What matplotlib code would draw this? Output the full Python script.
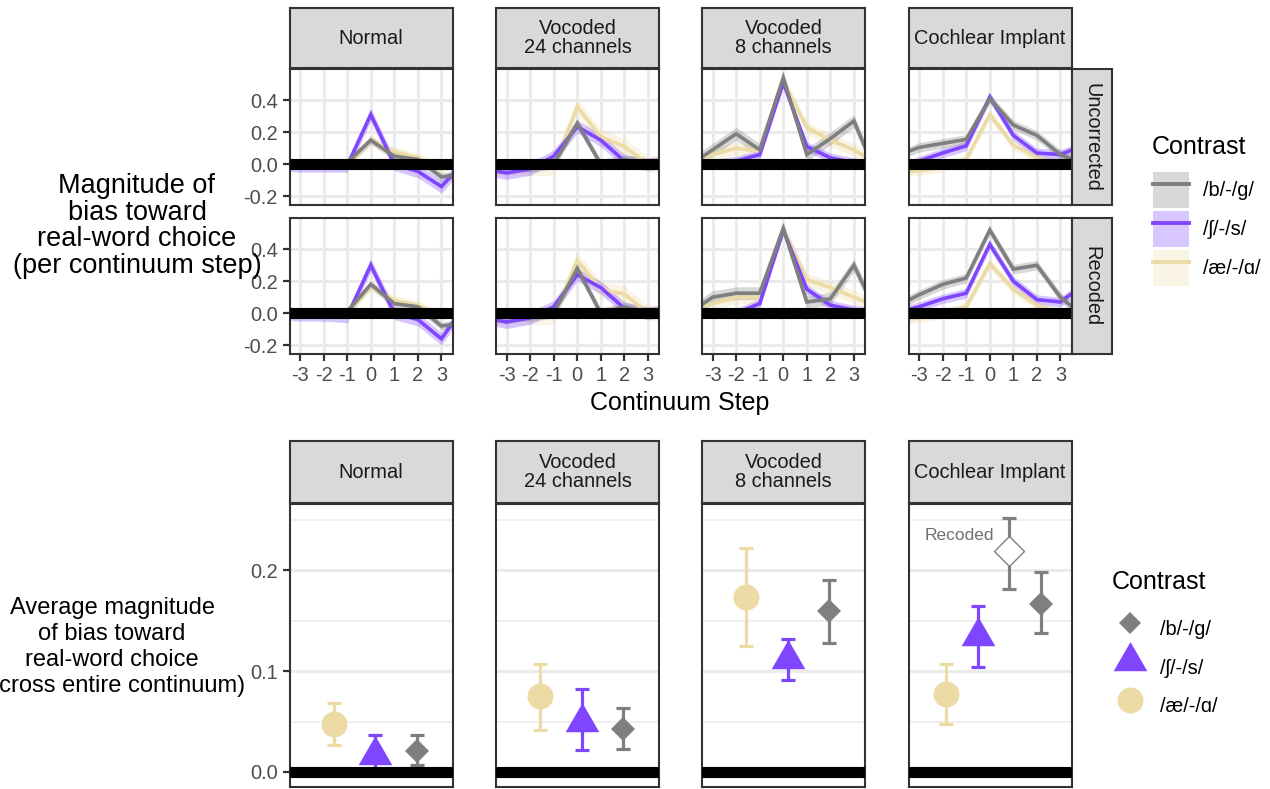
import matplotlib.pyplot as plt
from matplotlib.lines import Line2D
from matplotlib.patches import Patch

plt.rcParams['font.family'] = ['Liberation Sans', 'DejaVu Sans']
plt.rcParams['axes.unicode_minus'] = False

# ---- data -------------------------------------------------------------
groups = ['Normal', 'Vocoded\n24 channels', 'Vocoded\n8 channels', 'Cochlear Implant']
rows = ['Uncorrected', 'Recoded']
contrasts = ['/b/-/g/', '/ʃ/-/s/', '/æ/-/ɑ/']
steps = [-4, -3, -2, -1, 0, 1, 2, 3, 4]

# per-step bias, one list per group (Normal, Voc24, Voc8, CI)
bias_bg_unc = [[0.0, 0.0, 0.0, 0.01, 0.15, 0.05, 0.03, -0.08, -0.06],
               [0.0, -0.02, -0.02, 0.0, 0.256, 0.0, 0.03, 0.0, 0.0],
               [-0.01, 0.09, 0.19, 0.09, 0.54, 0.06, 0.16, 0.27, -0.08],
               [0.05, 0.105, 0.13, 0.155, 0.41, 0.245, 0.18, 0.06, 0.0]]
bias_bg_rec = [[0.0, 0.0, 0.0, 0.01, 0.18, 0.06, 0.04, -0.08, -0.06],
               [0.0, -0.02, -0.02, 0.0, 0.28, 0.0, 0.04, 0.0, 0.0],
               [0.0, 0.10, 0.125, 0.125, 0.53, 0.07, 0.09, 0.30, -0.01],
               [0.04, 0.115, 0.18, 0.22, 0.52, 0.275, 0.30, 0.10, -0.02]]
bias_sh_unc = [[0.0, -0.01, -0.01, -0.01, 0.31, 0.0, -0.045, -0.14, 0.02],
               [-0.03, -0.055, -0.03, 0.05, 0.235, 0.15, 0.02, 0.0, 0.02],
               [0.0, 0.0, 0.02, 0.06, 0.51, 0.11, 0.04, 0.01, -0.01],
               [-0.06, 0.02, 0.07, 0.115, 0.42, 0.18, 0.07, 0.06, 0.12]]
bias_sh_rec = [[0.0, -0.01, -0.01, -0.02, 0.30, 0.0, -0.04, -0.16, 0.05],
               [-0.03, -0.055, -0.03, 0.04, 0.24, 0.16, 0.03, 0.0, 0.02],
               [0.0, 0.0, 0.0, 0.06, 0.52, 0.15, 0.05, 0.02, 0.0],
               [0.0, 0.04, 0.09, 0.125, 0.43, 0.20, 0.085, 0.07, 0.18]]
bias_ae_unc = [[0.03, 0.0, 0.0, 0.0, 0.15, 0.08, 0.04, -0.03, 0.05],
               [-0.02, -0.02, -0.02, -0.02, 0.36, 0.17, 0.11, 0.0, 0.0],
               [0.0, 0.06, 0.10, 0.08, 0.52, 0.23, 0.15, 0.09, 0.0],
               [-0.06, -0.04, -0.02, 0.03, 0.31, 0.12, 0.04, 0.0, 0.0]]
bias_ae_rec = [[0.03, 0.0, 0.0, 0.0, 0.17, 0.08, 0.05, -0.02, 0.04],
               [-0.02, -0.02, -0.02, -0.02, 0.33, 0.15, 0.12, 0.0, 0.0],
               [0.02, 0.06, 0.10, 0.10, 0.53, 0.21, 0.16, 0.10, 0.04],
               [-0.05, -0.03, 0.0, 0.04, 0.31, 0.15, 0.05, 0.0, 0.0]]
# ribbon half widths per group
se_bg = [0.025, 0.03, 0.04, 0.03]
se_sh = [0.04, 0.04, 0.03, 0.03]
se_ae = [0.03, 0.05, 0.04, 0.03]

# averages across continuum, with interval ends
avg_bg = [0.021, 0.043, 0.160, 0.167]
lo_bg = [0.007, 0.0225, 0.128, 0.138]
hi_bg = [0.037, 0.063, 0.191, 0.198]
avg_sh = [0.017, 0.050, 0.112, 0.135]
lo_sh = [-0.003, 0.022, 0.091, 0.104]
hi_sh = [0.037, 0.082, 0.132, 0.165]
avg_ae = [0.048, 0.075, 0.174, 0.077]
lo_ae = [0.027, 0.042, 0.125, 0.0475]
hi_ae = [0.068, 0.107, 0.2225, 0.107]
ci_recoded = [0.219, 0.182, 0.252]   # value, low, high

# ---- style ------------------------------------------------------------
GRAY, PURPLE, GOLD = '#7F7F7F', '#8046FF', '#ECDBA5'
BORDER = '#333333'
GRID = '#EBEBEB'
TICK = '#4D4D4D'
TRI = [(0, 1), (-0.866, -0.5), (0.866, -0.5), (0, 1)]

W, H = 1270, 789
fig = plt.figure(figsize=(W / 100, H / 100), dpi=100)


def box(x0, y0, x1, y1):
    return [x0 / W, 1 - y1 / H, (x1 - x0) / W, (y1 - y0) / H]


def style_panel(ax):
    for s in ax.spines.values():
        s.set_color(BORDER)
        s.set_linewidth(1.5)
    ax.tick_params(colors=BORDER, labelcolor=TICK, labelsize=14.4,
                   length=5, width=1.6, direction='out')
    ax.set_axisbelow(True)


def strip(rect, text, rotation=0):
    s = fig.add_axes(rect)
    s.set_facecolor('#D9D9D9')
    s.set_xticks([])
    s.set_yticks([])
    for sp in s.spines.values():
        sp.set_color(BORDER)
        sp.set_linewidth(1.5)
    s.text(0.5, 0.5, text, ha='center', va='center', rotation=rotation,
           fontsize=14.4, color='#1A1A1A', linespacing=1.0, transform=s.transAxes)


lefts = [289.5, 496, 702, 908.5]
pw = 163
row_y = [(69, 205), (218, 354)]
bias = [(bias_ae_unc, bias_ae_rec, se_ae, GOLD),
        (bias_sh_unc, bias_sh_rec, se_sh, PURPLE),
        (bias_bg_unc, bias_bg_rec, se_bg, GRAY)]

for g, name in enumerate(groups):
    x0 = lefts[g]
    strip(box(x0, 8, x0 + pw, 68), name)
    for r in range(2):
        y0, y1 = row_y[r]
        ax = fig.add_axes(box(x0, y0, x0 + pw, y1))
        for unc, rec, se, col in bias:
            v = (unc if r == 0 else rec)[g]
            ax.fill_between(steps, [a - se[g] for a in v], [a + se[g] for a in v],
                            color=col, alpha=0.3, lw=0)
            ax.plot(steps, v, color=col, lw=2.6, solid_joinstyle='miter')
        ax.axhline(0, color='black', lw=8, zorder=5)
        ax.set_xlim(-3.45, 3.47)
        ax.set_ylim(-0.255, 0.595)
        ax.set_xticks([-3, -2, -1, 0, 1, 2, 3])
        ax.set_yticks([-0.2, 0.0, 0.2, 0.4])
        ax.yaxis.set_major_formatter('{x:.1f}')
        ax.grid(True, color=GRID, lw=2.2)
        style_panel(ax)
        if g > 0:
            ax.tick_params(axis='y', length=0, labelleft=False)
        if r == 0:
            ax.tick_params(axis='x', length=0, labelbottom=False)
        if g == 3:
            strip(box(x0 + pw, y0, 1112, y1), rows[r], rotation=-90)

fig.text(680 / W, 1 - 403 / H, 'Continuum Step', ha='center', va='center', fontsize=18)
fig.text(137 / W, 1 - 226 / H, 'Magnitude of\nbias toward\nreal-word choice\n(per continuum step)',
         ha='center', va='center', fontsize=19.5, linespacing=1.03)

# top legend
fig.text(1152 / W, 1 - 147 / H, 'Contrast', ha='left', va='center', fontsize=18)
handles = [(Patch(fc=c, alpha=0.3, lw=0), Line2D([], [], color=c, lw=2.8))
           for c in (GRAY, PURPLE, GOLD)]
fig.legend(handles, contrasts, loc='upper left',
           bbox_to_anchor=(1153 / W, 1 - 172 / H), frameon=False, borderpad=0,
           borderaxespad=0, handlelength=1.8, handleheight=2.39, labelspacing=0.15,
           handletextpad=0.69, fontsize=14.4)

# ---- bottom panels ----------------------------------------------------
for g, name in enumerate(groups):
    x0 = lefts[g]
    strip(box(x0, 441, x0 + pw, 503), name)
    ax = fig.add_axes(box(x0, 504, x0 + pw, 787))
    if g < 3:
        pos = [1, 2, 3]
        ax.set_xlim(-0.07, 3.86)
    else:
        pos = [1, 2, 4]
        ax.set_xlim(-0.16, 4.94)
    pts = [(avg_ae, lo_ae, hi_ae, GOLD, 'o', 18.7),
           (avg_sh, lo_sh, hi_sh, PURPLE, TRI, 28),
           (avg_bg, lo_bg, hi_bg, GRAY, 'D', 12.7)]
    for p, (avg, lo, hi, col, mk, ms) in zip(pos, pts):
        ax.errorbar([p], [avg[g]], yerr=[[avg[g] - lo[g]], [hi[g] - avg[g]]],
                    fmt='none', ecolor=col, elinewidth=2.3, capsize=4.7, capthick=2.3, zorder=3)
        ax.plot([p], [avg[g]], ls='none', marker=mk, ms=ms, color=col, mew=0, zorder=4)
    if g == 3:
        v, lo, hi = ci_recoded
        ax.errorbar([3], [v], yerr=[[v - lo], [hi - v]], fmt='none', ecolor=GRAY,
                    elinewidth=2.3, capsize=4.7, capthick=2.3, zorder=3)
        ax.plot([3], [v], ls='none', marker='D', ms=15.5, mfc='white', mec=GRAY,
                mew=1.0, zorder=4)
        ax.annotate('Recoded', (3, 0.235), xytext=(-11, 0), textcoords='offset points',
                    ha='right', va='center', fontsize=12.5, color='#707070')
    ax.axhline(0, color='black', lw=8, zorder=5)
    ax.set_ylim(-0.015, 0.266)
    ax.set_yticks([0.0, 0.1, 0.2])
    ax.set_yticks([0.05, 0.15, 0.25], minor=True)
    ax.yaxis.set_major_formatter('{x:.1f}')
    ax.grid(True, axis='y', which='major', color=GRID, lw=2.2)
    ax.grid(True, axis='y', which='minor', color=GRID, lw=1.1)
    ax.set_xticks([])
    style_panel(ax)
    ax.tick_params(axis='y', which='minor', length=0)
    if g > 0:
        ax.tick_params(axis='y', length=0, labelleft=False)

fig.text(112 / W, 1 - 647 / H,
         'Average magnitude\nof bias toward\nreal-word choice\n(across entire continuum)',
         ha='center', va='center', fontsize=17, linespacing=1.24)

fig.text(1112 / W, 1 - 582 / H, 'Contrast', ha='left', va='center', fontsize=18)
handles2 = [Line2D([], [], ls='none', marker='D', ms=11.5, color=GRAY, mew=0),
            Line2D([], [], ls='none', marker=TRI, ms=28, color=PURPLE, mew=0),
            Line2D([], [], ls='none', marker='o', ms=18.7, color=GOLD, mew=0)]
fig.legend(handles2, contrasts, loc='upper left',
           bbox_to_anchor=(1112 / W, 1 - 611 / H), frameon=False, borderpad=0,
           borderaxespad=0, handlelength=1.8, handleheight=2.39, labelspacing=0.12,
           handletextpad=0.6, fontsize=14.4)

fig.savefig('out.png', dpi=100)
